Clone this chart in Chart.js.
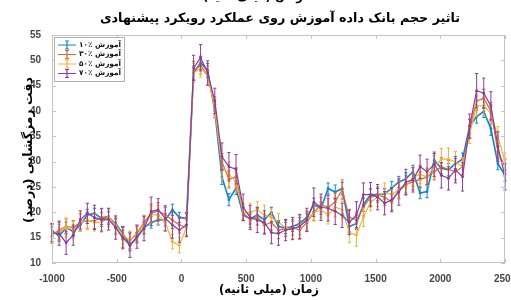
<!DOCTYPE html>
<html>
<head>
<meta charset="utf-8">
<script src="https://cdn.jsdelivr.net/npm/chart.js@4.4.1/dist/chart.umd.min.js"></script>
<style>
  html, body { margin: 0; padding: 0; background: #fff; }
</style>
</head>
<body>
<canvas id="region" width="511" height="300"></canvas>
<script>
// time (ms) of each window
const times = [-1000, -945, -891, -836, -781, -727, -672, -617, -563, -508,
  -453, -398, -344, -289, -234, -180, -125, -70, -16, 39,
  94, 148, 203, 258, 313, 367, 422, 477, 531, 586,
  641, 695, 750, 805, 859, 914, 969, 1023, 1078, 1133,
  1188, 1242, 1297, 1352, 1406, 1461, 1516, 1570, 1625, 1680,
  1734, 1789, 1844, 1898, 1953, 2008, 2063, 2117, 2172, 2227,
  2281, 2336, 2391, 2445, 2500];

const seriesNames = ['آموزش ٪۱۰', 'آموزش ٪۳۰', 'آموزش ٪۵۰', 'آموزش ٪۷۰'];

const acc10 = [16.4, 15.3, 17.0, 16.2, 17.5, 19.5, 19.8, 18.8, 19.0, 17.8,
  15.8, 13.5, 15.0, 17.0, 18.0, 18.5, 18.5, 20.5, 19.0, 18.8,
  47.5, 49.5, 48.0, 40.0, 27.0, 22.5, 24.8, 19.5, 18.7, 19.5,
  18.5, 20.0, 17.2, 16.9, 17.2, 17.8, 19.0, 21.5, 20.8, 24.7,
  24.0, 24.7, 17.2, 17.8, 21.5, 23.5, 23.5, 23.6, 24.8, 26.0,
  26.6, 28.0, 23.8, 24.1, 30.3, 28.7, 28.4, 29.6, 30.5, 37.0,
  38.9, 39.9, 36.5, 29.6, 27.3];
const acc30 = [15.5, 16.5, 17.2, 17.0, 18.0, 18.3, 18.3, 19.0, 19.2, 17.2,
  14.8, 14.5, 15.8, 18.0, 19.8, 20.3, 19.5, 18.5, 17.5, 17.0,
  48.0, 49.0, 47.0, 41.0, 30.0, 26.5, 27.0, 20.0, 18.5, 19.2,
  17.5, 18.0, 16.5, 16.8, 17.0, 16.5, 18.0, 20.0, 21.5, 21.0,
  22.0, 24.5, 19.0, 18.5, 21.0, 23.0, 23.5, 23.0, 22.0, 24.5,
  25.5, 26.0, 26.5, 27.0, 28.0, 29.0, 28.5, 28.0, 29.0, 36.5,
  42.0, 42.5, 40.0, 32.0, 29.0];
const acc50 = [16.0, 16.0, 17.0, 16.5, 18.0, 18.5, 18.0, 18.0, 19.0, 17.5,
  15.5, 14.5, 15.5, 17.5, 19.5, 19.5, 18.0, 14.2, 13.5, 17.0,
  47.5, 48.5, 47.0, 40.5, 29.0, 27.5, 26.0, 20.0, 20.0, 20.5,
  19.5, 19.0, 18.0, 17.0, 16.5, 17.5, 18.5, 20.0, 20.5, 19.5,
  21.0, 20.5, 16.0, 15.5, 19.0, 22.0, 23.0, 24.0, 23.5, 24.5,
  25.0, 27.0, 27.5, 27.0, 29.0, 30.5, 30.5, 30.0, 29.0, 35.5,
  41.0, 41.0, 39.5, 35.0, 30.0];
const acc70 = [16.0, 15.8, 14.0, 15.5, 18.5, 19.8, 19.0, 18.5, 18.6, 17.0,
  15.0, 13.5, 15.2, 16.8, 20.2, 20.5, 18.8, 17.5, 16.5, 17.5,
  48.5, 50.5, 47.5, 42.0, 31.0, 29.0, 28.5, 21.0, 19.0, 18.5,
  18.0, 16.0, 15.8, 16.5, 16.8, 17.2, 18.5, 22.0, 21.0, 20.8,
  20.2, 19.4, 18.0, 19.5, 23.5, 23.5, 23.0, 21.8, 22.5, 24.0,
  26.0, 26.4, 29.0, 28.0, 29.5, 27.3, 26.7, 28.4, 27.0, 37.0,
  44.0, 43.5, 41.0, 33.0, 27.0];

// half length of the error bars
const err10 = [1.2, 1.0, 1.1, 1.0, 1.2, 1.1, 1.0, 1.2, 1.1, 1.0,
  1.2, 1.1, 1.0, 1.2, 1.1, 1.0, 1.2, 1.1, 1.0, 1.2,
  1.4, 1.3, 1.4, 1.3, 1.5, 1.2, 1.3, 1.1, 1.0, 1.2,
  1.1, 1.0, 1.2, 1.1, 1.0, 1.2, 1.1, 1.3, 1.2, 1.1,
  1.4, 1.2, 1.1, 1.2, 1.3, 1.1, 1.2, 1.0, 1.3, 1.1,
  1.2, 1.3, 1.1, 1.2, 1.3, 1.1, 1.2, 1.0, 1.2, 1.4,
  1.3, 1.2, 1.3, 1.2, 1.1];
const err30 = [1.6, 1.8, 1.5, 1.4, 1.7, 1.6, 1.5, 1.8, 1.6, 1.5,
  1.7, 1.6, 1.5, 1.4, 1.8, 1.6, 1.5, 1.7, 1.6, 1.5,
  1.8, 1.7, 1.9, 1.8, 1.6, 1.7, 1.8, 1.6, 1.5, 1.7,
  1.6, 1.5, 1.7, 1.6, 1.5, 1.8, 1.7, 1.6, 1.5, 1.7,
  1.8, 1.9, 1.6, 1.5, 1.7, 1.6, 1.5, 1.7, 1.6, 1.8,
  1.7, 1.6, 1.5, 1.7, 1.6, 1.8, 1.7, 1.6, 1.5, 1.8,
  1.9, 1.8, 1.7, 1.6, 1.5];
const err50 = [1.8, 1.6, 1.9, 1.7, 1.8, 1.6, 1.7, 1.9, 1.8, 1.6,
  1.7, 1.8, 1.6, 1.9, 1.7, 1.8, 1.6, 1.4, 1.5, 1.7,
  1.9, 1.8, 2.0, 1.9, 2.6, 2.4, 2.0, 1.7, 1.8, 1.6,
  1.9, 1.7, 1.8, 1.6, 1.7, 1.9, 1.8, 1.7, 1.6, 1.8,
  1.9, 1.7, 2.0, 2.2, 1.8, 1.7, 1.9, 1.8, 1.6, 1.8,
  1.7, 1.9, 1.8, 1.7, 2.2, 2.1, 2.2, 2.0, 1.8, 1.9,
  2.0, 1.9, 1.8, 1.9, 1.7];
const err70 = [1.8, 2.3, 2.3, 2.0, 1.8, 2.0, 2.4, 2.2, 2.1, 2.3,
  2.2, 2.4, 2.3, 2.4, 2.8, 2.2, 2.5, 2.6, 2.4, 2.3,
  2.5, 2.6, 2.4, 2.5, 2.7, 2.8, 2.9, 2.6, 2.4, 2.5,
  2.3, 2.2, 2.3, 2.1, 2.2, 2.4, 2.3, 2.8, 2.6, 2.5,
  2.6, 2.4, 2.4, 2.6, 2.3, 2.4, 2.5, 2.3, 2.4, 2.6,
  2.5, 2.4, 2.3, 2.5, 2.4, 2.5, 2.3, 2.6, 2.8, 2.4,
  3.4, 3.0, 2.8, 2.9, 2.6];

const colors = ['#1581cc', '#e0662c', '#f0b335', '#8a3c9b'];
const allAcc = [acc10, acc30, acc50, acc70];
const allErr = [err10, err30, err50, err70];

const arFont = '"DejaVu Sans", sans-serif';
const tickFont = { size: 10, weight: 'bold', family: 'Arial, "Liberation Sans", sans-serif' };

let datasets = allAcc.map(function (acc, k) {
  return {
    label: seriesNames[k],
    data: times.map(function (t, i) { return { x: t, y: acc[i] }; }),
    errors: allErr[k],
    borderColor: colors[k],
    backgroundColor: colors[k],
    borderWidth: k === 0 ? 1.6 : 1.2,
    pointRadius: 1.4,
    pointHoverRadius: 1.4,
    pointBorderWidth: 0,
    tension: 0,
    order: 4 - k
  };
});

// vertical error bars with small caps, drawn right after each dataset
const errorBars = {
  id: 'errorBars',
  afterDatasetDraw: function (chart, args) {
    let ds = chart.data.datasets[args.index];
    let ctx = chart.ctx, ys = chart.scales.y, xs = chart.scales.x;
    ctx.save();
    ctx.strokeStyle = ds.borderColor;
    ctx.lineWidth = 1;
    ds.data.forEach(function (p, i) {
      let e = ds.errors[i];
      let px = xs.getPixelForValue(p.x);
      let top = ys.getPixelForValue(p.y + e);
      let bot = ys.getPixelForValue(p.y - e);
      ctx.beginPath();
      ctx.moveTo(px, top); ctx.lineTo(px, bot);
      ctx.moveTo(px - 1.6, top); ctx.lineTo(px + 1.6, top);
      ctx.moveTo(px - 1.6, bot); ctx.lineTo(px + 1.6, bot);
      ctx.stroke();
    });
    ctx.restore();
  }
};

// set a bold arabic font so that the text takes the given width
function fitFont(ctx, text, width) {
  ctx.font = 'bold 20px ' + arFont;
  let size = 20 * width / ctx.measureText(text).width;
  ctx.font = 'bold ' + size.toFixed(2) + 'px ' + arFont;
}

// box, inner ticks, titles and legend (matlab look)
const frame = {
  id: 'frame',
  afterDraw: function (chart) {
    let ctx = chart.ctx, a = chart.chartArea;
    let xs = chart.scales.x, ys = chart.scales.y;
    ctx.save();
    ctx.strokeStyle = '#c4c4c4';
    ctx.lineWidth = 1;
    ctx.strokeRect(a.left + 0.5, a.top + 0.5, a.right - a.left - 1, a.bottom - a.top - 1);
    ctx.beginPath();
    xs.ticks.forEach(function (t) {
      let px = Math.round(xs.getPixelForValue(t.value)) + 0.5;
      ctx.moveTo(px, a.bottom); ctx.lineTo(px, a.bottom - 4);
      ctx.moveTo(px, a.top); ctx.lineTo(px, a.top + 4);
    });
    ys.ticks.forEach(function (t) {
      let py = Math.round(ys.getPixelForValue(t.value)) + 0.5;
      ctx.moveTo(a.left, py); ctx.lineTo(a.left + 4, py);
      ctx.moveTo(a.right, py); ctx.lineTo(a.right - 4, py);
    });
    ctx.stroke();

    // texts
    ctx.direction = 'rtl';
    ctx.fillStyle = '#000';
    ctx.textAlign = 'center';
    ctx.textBaseline = 'middle';
    let xTitle = 'زمان (میلی ثانیه)';
    fitFont(ctx, xTitle, 100);
    ctx.fillText(xTitle, 253, -3);
    ctx.fillText(xTitle, 269, 290);
    let title = 'تاثیر حجم بانک داده آموزش روی عملکرد رویکرد پیشنهادی';
    fitFont(ctx, title, 360);
    ctx.fillText(title, 280, 19);
    let yTitle = 'دقت رمزگشایی (درصد)';
    fitFont(ctx, yTitle, 146);
    ctx.save();
    ctx.translate(29, 150);
    ctx.rotate(-Math.PI / 2);
    ctx.fillText(yTitle, 0, 0);
    ctx.restore();

    // legend
    let lx = a.left + 2, ly = a.top + 2, lw = 70, lh = 44;
    ctx.fillStyle = '#fff';
    ctx.fillRect(lx, ly, lw, lh);
    ctx.strokeStyle = '#b0b0b0';
    ctx.strokeRect(lx + 0.5, ly + 0.5, lw, lh);
    chart.data.datasets.forEach(function (ds, k) {
      let y = ly + 8 + k * 9.5;
      let sx = lx + 13;
      ctx.strokeStyle = ds.borderColor;
      ctx.lineWidth = 1.2;
      ctx.beginPath();
      ctx.moveTo(sx - 9, y); ctx.lineTo(sx + 9, y);
      ctx.moveTo(sx, y - 4); ctx.lineTo(sx, y + 4);
      ctx.moveTo(sx - 2, y - 4); ctx.lineTo(sx + 2, y - 4);
      ctx.moveTo(sx - 2, y + 4); ctx.lineTo(sx + 2, y + 4);
      ctx.stroke();
      ctx.fillStyle = '#111';
      fitFont(ctx, ds.label, 42);
      ctx.textAlign = 'right';
      ctx.direction = 'rtl';
      ctx.fillText(ds.label, lx + lw - 3, y);
    });
    ctx.restore();
  }
};

let ctx = document.getElementById('region').getContext('2d');
let accuracyChart = new Chart(ctx, {
  type: 'line',
  data: { datasets: datasets },
  options: {
    responsive: false,
    animation: false,
    layout: { padding: { left: 0, right: 6, top: 35, bottom: 0 } },
    plugins: {
      legend: { display: false },
      tooltip: { enabled: false }
    },
    scales: {
      x: {
        type: 'linear',
        min: -1000,
        max: 2500,
        ticks: {
          stepSize: 500, color: '#444', font: tickFont, maxRotation: 0, padding: 2,
          callback: function (v) { return String(v); }
        },
        grid: { display: false },
        border: { display: false },
        afterFit: function (scale) {
          scale.height = 37;
          scale.paddingLeft = 0;
          scale.paddingRight = 0;
        }
      },
      y: {
        min: 10,
        max: 55,
        ticks: {
          stepSize: 5, color: '#444', font: tickFont, padding: 3,
          callback: function (v) { return String(v); }
        },
        grid: { display: false },
        border: { display: false },
        afterFit: function (scale) {
          scale.width = 52;
        }
      }
    }
  },
  plugins: [errorBars, frame]
});
</script>
</body>
</html>
